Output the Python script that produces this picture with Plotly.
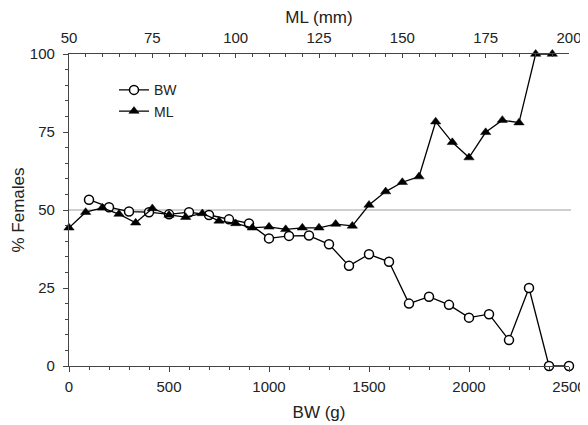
import plotly.graph_objects as go

# Data
bw_g = [100, 200, 300, 400, 500, 600, 700, 800, 900, 1000, 1100, 1200, 1300,
        1400, 1500, 1600, 1700, 1800, 1900, 2000, 2100, 2200, 2300, 2400, 2500]
bw_pct_females = [53.3, 50.9, 49.5, 49.3, 48.6, 49.3, 48.4, 47.0, 45.7, 40.9,
                  41.7, 41.8, 39.0, 32.1, 35.8, 33.4, 20.0, 22.2, 19.6, 15.5,
                  16.6, 8.3, 25.0, 0.0, 0.0]

ml_mm = [50, 55, 60, 65, 70, 75, 80, 85, 90, 95, 100, 105, 110, 115, 120, 125,
         130, 135, 140, 145, 150, 155, 160, 165, 170, 175, 180, 185, 190, 195]
ml_pct_females = [44.3, 49.3, 50.7, 48.7, 45.9, 50.5, 48.4, 47.7, 48.9, 46.5,
                  45.7, 44.3, 44.6, 43.8, 44.3, 44.3, 45.5, 44.9, 51.6, 55.9,
                  58.9, 60.7, 78.3, 71.7, 66.8, 74.9, 78.8, 78.0, 100.0, 100.0]

reference_level = 50
bw_ticks = [0, 500, 1000, 1500, 2000, 2500]
ml_ticks = [50, 75, 100, 125, 150, 175, 200]
pct_ticks = [0, 25, 50, 75, 100]

FONT = "Liberation Sans, Arial, sans-serif"
AX = "#444444"

fig = go.Figure()

fig.add_trace(go.Scatter(
    x=bw_g, y=bw_pct_females, name="BW", mode="lines+markers",
    line=dict(color="black", width=1.3),
    marker=dict(symbol="circle", size=9, color="white",
                line=dict(color="black", width=1.5)),
    cliponaxis=False, xaxis="x", yaxis="y",
))
fig.add_trace(go.Scatter(
    x=ml_mm, y=ml_pct_females, name="ML", mode="lines+markers",
    line=dict(color="black", width=1.3),
    marker=dict(symbol="triangle-up", size=9, color="black",
                line=dict(color="black", width=0.5)),
    cliponaxis=False, xaxis="x2", yaxis="y",
))

fig.add_shape(type="line", xref="paper", x0=0, x1=1.004, yref="y",
              y0=reference_level, y1=reference_level,
              line=dict(color="#a0a0a0", width=1.2), layer="below")

tickfont = dict(family=FONT, size=15, color="#222")
titlefont = dict(family=FONT, size=17, color="#222")

# The page body has an 8px default margin, so the figure is 580x417 and
# the margins are reduced by 8px on the left and top.
fig.update_layout(
    width=580, height=417,
    margin=dict(l=61, r=19, t=46, b=59),
    paper_bgcolor="white", plot_bgcolor="white",
    font=dict(family=FONT, size=15, color="#222"),
    showlegend=True,
    legend=dict(x=0.09, y=0.935, xanchor="left", yanchor="top",
                bgcolor="rgba(0,0,0,0)", font=dict(family=FONT, size=14, color="#222"),
                tracegroupgap=0),
    xaxis=dict(
        range=[0, 2500], tickvals=bw_ticks, ticks="outside", ticklen=5,
        tickcolor=AX, showline=True, linecolor=AX, linewidth=1.2,
        showgrid=False, zeroline=False, tickfont=tickfont,
        minor=dict(dtick=100, ticks="outside", ticklen=3, tickcolor=AX, showgrid=False),
        title=dict(text="BW (g)", font=titlefont, standoff=12),
        ticklabelstandoff=2,
        automargin=False,
    ),
    xaxis2=dict(
        range=[50, 200], tickvals=ml_ticks, overlaying="x", side="top",
        anchor="y", ticks="inside", ticklen=4, tickcolor=AX,
        showline=True, linecolor=AX, linewidth=1.2,
        showgrid=False, zeroline=False, tickfont=tickfont,
        minor=dict(dtick=5, ticks="inside", ticklen=3, tickcolor=AX, showgrid=False),
        title=dict(text="ML (mm)", font=titlefont, standoff=3),
        ticklabelstandoff=4,
        automargin=False,
    ),
    yaxis=dict(
        range=[0, 100], tickvals=pct_ticks, ticks="outside", ticklen=5,
        tickcolor=AX, showline=True, linecolor=AX, linewidth=1.2,
        showgrid=False, zeroline=False, tickfont=tickfont,
        minor=dict(dtick=5, ticks="outside", ticklen=3, tickcolor=AX, showgrid=False),
        title=dict(text="% Females", font=titlefont, standoff=0),
        ticklabelstandoff=5,
        automargin=False,
    ),
)

fig.write_html("out.html")
